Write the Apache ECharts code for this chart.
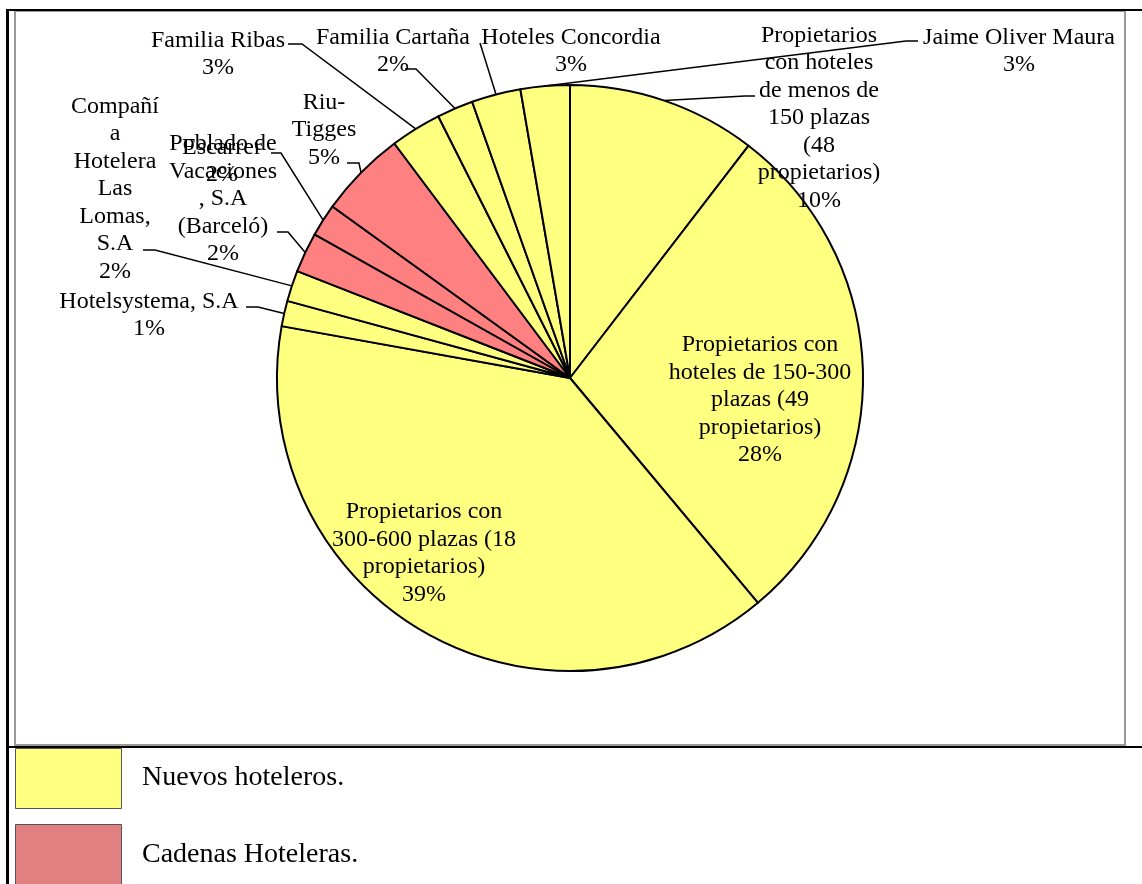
<!DOCTYPE html>
<html>
<head>
<meta charset="utf-8">
<script src="https://cdn.jsdelivr.net/npm/echarts@6/dist/echarts.min.js"></script>
<style>
html,body{margin:0;padding:0;background:#fff;}
#chart{width:1142px;height:884px;}
</style>
</head>
<body>
<div id="chart"></div>
<script>
// ---- data ----
const categories = [
  "Propietarios con hoteles de menos de 150 plazas (48 propietarios)",
  "Propietarios con hoteles de 150-300 plazas (49 propietarios)",
  "Propietarios con 300-600 plazas (18 propietarios)",
  "Hotelsystema, S.A",
  "Compañía Hotelera Las Lomas, S.A",
  "Poblado de Vacaciones, S.A (Barceló)",
  "Escarrer",
  "Riu-Tigges",
  "Familia Ribas",
  "Familia Cartaña",
  "Hoteles Concordia",
  "Jaime Oliver Maura"
];
const values = [10.4, 28.4, 38.8, 1.4, 1.7, 2.2, 1.8, 4.8, 2.8, 2.0, 2.7, 2.7];
const groups = ["nuevos","nuevos","nuevos","nuevos","nuevos","cadenas","cadenas","cadenas","nuevos","nuevos","nuevos","nuevos"];
const labelTexts = [
  "Propietarios\ncon hoteles\nde menos de\n150 plazas\n(48\npropietarios)",
  "Propietarios con\nhoteles de 150-300\nplazas (49\npropietarios)",
  "Propietarios con\n300-600 plazas (18\npropietarios)",
  "Hotelsystema, S.A",
  "Compañí\na\nHotelera\nLas\nLomas,\nS.A",
  "Poblado de\nVacaciones\n, S.A\n(Barceló)",
  "Escarrer",
  "Riu-\nTigges",
  "Familia Ribas",
  "Familia Cartaña",
  "Hoteles Concordia",
  "Jaime Oliver Maura"
];
const legendNames = ["Nuevos hoteleros.", "Cadenas Hoteleras."];

// ---- styling / layout ----
const groupColor = { nuevos: "#FFFF80", cadenas: "#FF8080" };
const legendColor = ["#FFFF80", "#E08080"];
const FONT = "'Liberation Serif','Times New Roman',serif";
const CX = 570, CY = 378, R = 293;
// label block centres
const labelPos = [
  [819, 118], [760, 400], [424, 553], [149, 315], [115, 189], [223, 199],
  [222, 161], [324, 130], [218, 54], [393, 51], [571, 51], [1019, 51]
];
// leader line points after the rim point (null = inside label, no leader)
const leaders = [
  [[745, 96], [755, 96]],
  null,
  null,
  [[258, 307], [246, 307]],
  [[155, 250], [143, 250]],
  [[288, 232], [277, 232]],
  [[281, 153], [271, 153]],
  [[359, 163], [347, 163]],
  [[302, 44], [288, 44]],
  [[416, 69], [405, 69]],
  [[480, 43]],
  [[906, 41], [918, 41]]
];

const total = values.reduce((a, b) => a + b, 0);
function rimPoint(i) {
  let cum = 0;
  for (let k = 0; k < i; k++) cum += values[k];
  const mid = (cum + values[i] / 2) / total * 2 * Math.PI;
  return [CX + R * Math.sin(mid), CY - R * Math.cos(mid)];
}

const data = categories.map((name, i) => ({
  name: name,
  value: values[i],
  itemStyle: { color: groupColor[groups[i]] },
  labelLine: { show: leaders[i] !== null }
}));

const chart = echarts.init(document.getElementById('chart'), null, { renderer: 'canvas' });
chart.setOption({
  backgroundColor: '#ffffff',
  animation: false,
  series: [{
    type: 'pie',
    center: [CX, CY],
    radius: R,
    startAngle: 90,
    clockwise: true,
    avoidLabelOverlap: false,
    itemStyle: { borderColor: '#000', borderWidth: 2 },
    emphasis: { disabled: true },
    label: {
      show: true,
      position: 'outside',
      fontFamily: FONT,
      fontSize: 24,
      lineHeight: 27.5,
      color: '#000',
      align: 'center',
      formatter: function (p) {
        return labelTexts[p.dataIndex] + "\n" + Math.round(p.percent) + "%";
      }
    },
    labelLine: {
      show: true,
      lineStyle: { color: '#000', width: 1.5 }
    },
    labelLayout: function (params) {
      const i = params.dataIndex;
      const res = { x: labelPos[i][0], y: labelPos[i][1], align: 'center', verticalAlign: 'middle' };
      if (leaders[i]) {
        const start = rimPoint(i);
        res.labelLinePoints = [start].concat(leaders[i]);
      }
      return res;
    },
    data: data
  }],
  graphic: [
    // frame
    { type: 'rect', shape: { x: 15, y: 11, width: 1110, height: 734 }, style: { fill: null, stroke: '#999', lineWidth: 2 }, z: 1 },
    { type: 'rect', shape: { x: 6, y: 9, width: 3, height: 875 }, style: { fill: '#000' }, z: 2 },
    { type: 'rect', shape: { x: 6, y: 9, width: 1136, height: 2 }, style: { fill: '#000' }, z: 2 },
    { type: 'rect', shape: { x: 6, y: 746, width: 1136, height: 2 }, style: { fill: '#000' }, z: 2 },
    // legend
    { type: 'rect', shape: { x: 15.5, y: 748.5, width: 106, height: 60 }, style: { fill: legendColor[0], stroke: '#555', lineWidth: 1 }, z: 2 },
    { type: 'rect', shape: { x: 15.5, y: 824.5, width: 106, height: 70 }, style: { fill: legendColor[1], stroke: '#555', lineWidth: 1 }, z: 2 },
    { type: 'text', x: 142, y: 778, style: { text: legendNames[0], fontFamily: FONT, fontSize: 28, fill: '#000', verticalAlign: 'middle' }, z: 2 },
    { type: 'text', x: 142, y: 855, style: { text: legendNames[1], fontFamily: FONT, fontSize: 28, fill: '#000', verticalAlign: 'middle' }, z: 2 }
  ]
});
</script>
</body>
</html>
